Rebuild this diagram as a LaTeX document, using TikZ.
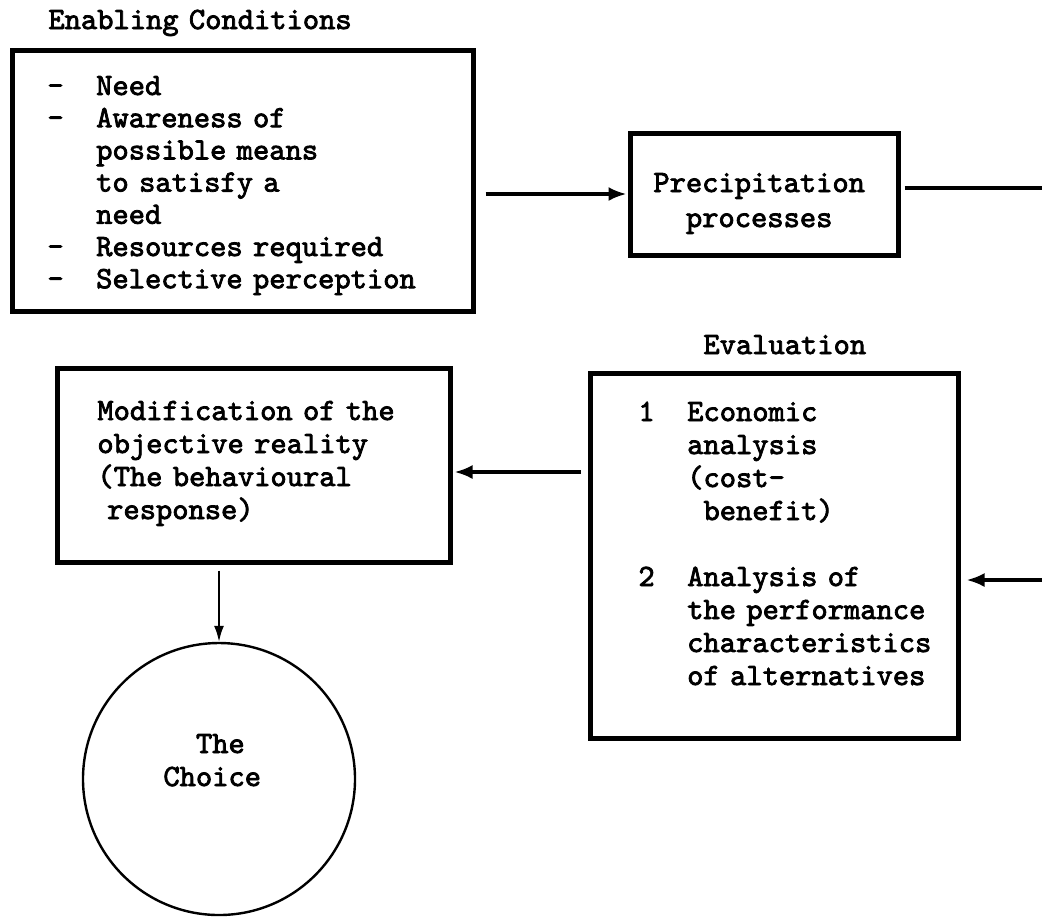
\documentclass[tikz,border=0pt]{standalone}
\usetikzlibrary{arrows.meta}
% heavy typewriter face (Latin Modern Mono, emboldened)
\font\twbase="[lmmono10-regular]:embolden=2.5" at 15.5pt
% horizontal space of n typewriter cells
\newcommand\chs[1]{\hspace*{#1\fontcharwd\font`M}}
% fixed-pitch word spaces and the given line pitch
\newcommand\twfont[1]{\twbase\baselineskip=#1pt\relax
  \fontdimen2\font=\fontcharwd\font`M\fontdimen3\font=0pt\fontdimen4\font=0pt}

\begin{document}
\begin{tikzpicture}[x=0.5pt,y=-0.5pt,
  frame/.style={draw, line width=2.5pt, inner sep=0pt, rectangle},
  txt/.style={inner sep=0pt, anchor=base west, align=left, text width=220pt,
    font=\twfont{16.5}},
  flow/.style={line width=1.6pt, -{Latex[length=9pt,width=7pt]}},
  plain/.style={line width=1.6pt},
  drop/.style={line width=1pt, -{Latex[length=8pt,width=5pt]}}]
\useasboundingbox (0,0) rectangle (1042,918);

% boxes
\node[frame, minimum width=230.5pt, minimum height=130.5pt] (cond) at (242.5,180.5) {};
\node[frame, minimum width=134pt, minimum height=61pt] (precip) at (764,194) {};
\node[frame, minimum width=196.5pt, minimum height=97pt] (modif) at (253.5,465) {};
\node[frame, minimum width=184pt, minimum height=182.5pt] (eval) at (774,555.5) {};
\node[draw, circle, line width=1.2pt, minimum size=136pt, inner sep=0pt] (choice) at (219,779) {};

% headings
\node[txt] (condtitle) at (48,29) {Enabling Conditions};
\node[txt] (evaltitle) at (703,354) {Evaluation};

% contents
\node[txt, font=\twfont{16.1}] (condtext) at (47,95) {%
–\chs{2}Need\\
–\chs{2}Awareness of\\
\chs{3}possible means\\
\chs{3}to satisfy a\\
\chs{3}need\\
–\chs{2}Resources required\\
–\chs{2}Selective perception};

\node[txt, font=\twfont{17.5}] (precipt) at (653,192) {%
Precipitation\\
\chs{2}processes};

\node[txt] (modift) at (97,420) {%
Modification of the\\
objective reality\\
(The behavioural\\
\chs{0.6}response)};

\node[txt] (evalt) at (638,421) {%
1\chs{2}Economic\\
\chs{3}analysis\\
\chs{3}(cost-\\
\chs{4}benefit)\\[16.5pt]
2\chs{2}Analysis of\\
\chs{3}the performance\\
\chs{3}characteristics\\
\chs{3}of alternatives};

\node[txt] (choicet) at (163,753) {%
\chs{2}The\\
Choice};

% connectors
\coordinate (outA) at (1042,188);
\coordinate (inB) at (1042,580);
\coordinate (backC) at (0,472);
\draw[flow, shorten <=5pt, shorten >=0.5pt] (cond.east |- precip.west) -- (precip.west);
\draw[plain, shorten <=2pt] (precip.east |- outA) -- (outA);
\draw[flow, shorten >=3pt] (inB) -- (inB -| eval.east);
\draw[flow, shorten <=3.5pt, shorten >=1pt] (eval.west |- backC) -- (modif.east |- backC);
\draw[drop, shorten <=3pt] (choice.north |- modif.south) -- (choice.north);
\end{tikzpicture}
\end{document}
